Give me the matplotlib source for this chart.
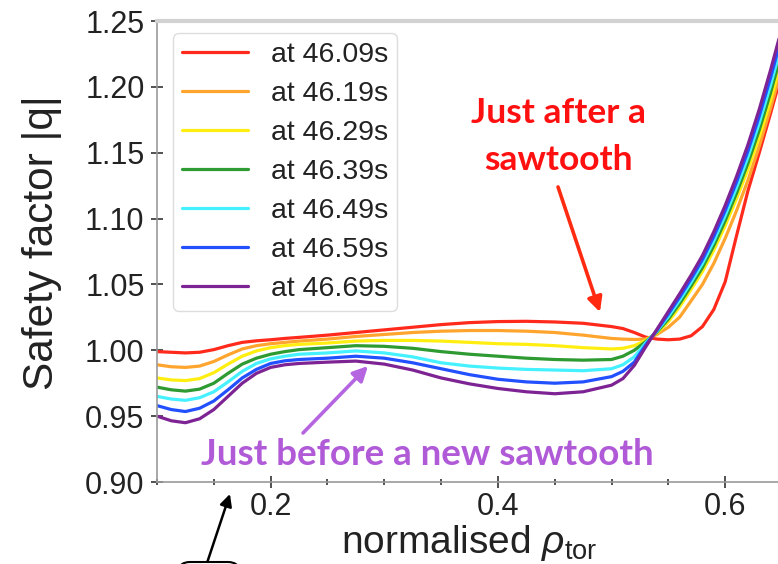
import matplotlib
matplotlib.use("Agg")
import matplotlib.pyplot as plt
from matplotlib.ticker import MultipleLocator, FormatStrFormatter
from matplotlib.patches import FancyBboxPatch
from matplotlib.transforms import IdentityTransform

plt.rcParams['font.family'] = 'Liberation Sans'
plt.rcParams['mathtext.fontset'] = 'custom'
plt.rcParams['mathtext.rm'] = 'Liberation Sans'
plt.rcParams['mathtext.it'] = 'Liberation Sans:italic'

# q profiles vs normalised toroidal radius
rho = [0.100, 0.1125, 0.125, 0.1375, 0.150, 0.1625, 0.175, 0.1875, 0.200, 0.2125, 0.225,
       0.250, 0.275, 0.300, 0.325, 0.350, 0.375, 0.400, 0.425, 0.450, 0.475, 0.500,
       0.510, 0.520, 0.530,
       0.540, 0.550, 0.560, 0.570, 0.580, 0.590, 0.600, 0.610, 0.620, 0.630, 0.640, 0.650]

q_4609 = [0.999, 0.9985, 0.998, 0.9985, 1.0005, 1.0035, 1.006, 1.0072, 1.008, 1.009, 1.0098,
          1.0115, 1.0135, 1.0155, 1.0175, 1.0195, 1.021, 1.0218, 1.022, 1.0215, 1.0205, 1.018,
          1.0165, 1.0135, 1.010,
          1.0085, 1.008, 1.0085, 1.011, 1.018, 1.031, 1.052, 1.087, 1.121, 1.150, 1.180, 1.211]
q_4619 = [0.989, 0.9875, 0.987, 0.988, 0.9915, 0.9965, 1.001, 1.0035, 1.005, 1.006, 1.007,
          1.0085, 1.0105, 1.012, 1.0135, 1.0145, 1.015, 1.015, 1.0145, 1.0135, 1.0115, 1.009,
          1.0085, 1.0082, 1.0085,
          1.012, 1.0175, 1.0252, 1.0375, 1.050, 1.066, 1.085, 1.106, 1.129, 1.155, 1.184, 1.215]
q_4629 = [0.979, 0.9775, 0.977, 0.9785, 0.983, 0.9895, 0.9955, 0.9995, 1.002, 1.0035, 1.0045,
          1.0055, 1.007, 1.0075, 1.0075, 1.007, 1.006, 1.005, 1.0045, 1.0035, 1.002, 1.001,
          1.0015, 1.0035, 1.0075,
          1.0132, 1.0217, 1.0331, 1.0462, 1.0598, 1.076, 1.0945, 1.1151, 1.1373, 1.1621, 1.190, 1.2212]
q_4639 = [0.972, 0.970, 0.969, 0.9705, 0.975, 0.9825, 0.9895, 0.994, 0.997, 0.999, 1.0005,
          1.002, 1.0035, 1.003, 1.0015, 0.999, 0.997, 0.9955, 0.994, 0.993, 0.9925, 0.993,
          0.9955, 1.000, 1.0065,
          1.0139, 1.0237, 1.0356, 1.0489, 1.0628, 1.0795, 1.0984, 1.1193, 1.142, 1.1673, 1.1957, 1.2272]
q_4649 = [0.965, 0.963, 0.962, 0.964, 0.9685, 0.976, 0.984, 0.990, 0.9935, 0.9955, 0.997,
          0.998, 0.9995, 0.998, 0.995, 0.9905, 0.988, 0.9865, 0.9855, 0.985, 0.9845, 0.986,
          0.989, 0.995, 1.0055,
          1.0146, 1.0256, 1.0381, 1.0516, 1.0659, 1.083, 1.1023, 1.1235, 1.1466, 1.1726, 1.2015, 1.2331]
q_4659 = [0.958, 0.955, 0.9535, 0.956, 0.9615, 0.970, 0.979, 0.9855, 0.990, 0.992, 0.993,
          0.994, 0.9955, 0.994, 0.9905, 0.986, 0.9815, 0.978, 0.976, 0.975, 0.976, 0.980,
          0.984, 0.991, 1.004,
          1.0153, 1.0276, 1.0405, 1.0543, 1.0689, 1.0865, 1.1061, 1.1278, 1.1513, 1.1778, 1.2072, 1.2391]
q_4669 = [0.950, 0.9465, 0.945, 0.948, 0.955, 0.965, 0.975, 0.9825, 0.987, 0.989, 0.990,
          0.991, 0.9918, 0.9895, 0.985, 0.979, 0.9745, 0.971, 0.9685, 0.967, 0.9685, 0.9735,
          0.9785, 0.9885, 1.0025,
          1.016, 1.0295, 1.043, 1.057, 1.072, 1.090, 1.110, 1.132, 1.156, 1.183, 1.213, 1.245]

profiles = [q_4609, q_4619, q_4629, q_4639, q_4649, q_4659, q_4669]
labels = ['at 46.09s', 'at 46.19s', 'at 46.29s', 'at 46.39s',
          'at 46.49s', 'at 46.59s', 'at 46.69s']
colors = ['#ff2a1c', '#ffa52e', '#ffee10', '#2e9a32', '#45f0ff', '#2250ff', '#7d2394']

fig = plt.figure(figsize=(7.78, 5.64), dpi=100)
ax = fig.add_axes([157/778, 82/564, 625/778, 461/564])

for q, lab, col in zip(profiles, labels, colors):
    ax.plot(rho, q, color=col, lw=2.3, label=lab,
            solid_capstyle='round', solid_joinstyle='round')

ax.set_xlim(0.1, 0.65)
ax.set_ylim(0.90, 1.25)
ax.xaxis.set_major_locator(MultipleLocator(0.2))
ax.xaxis.set_minor_locator(MultipleLocator(0.05))
ax.yaxis.set_major_locator(MultipleLocator(0.05))
ax.yaxis.set_major_formatter(FormatStrFormatter('%.2f'))
ax.xaxis.set_major_formatter(FormatStrFormatter('%.1f'))

ax.tick_params(which='major', direction='inout', length=8, width=1.2,
               color='#333333', labelsize=22, labelcolor='#222222')
ax.tick_params(which='minor', direction='inout', length=4, width=1.2, color='#333333')
ax.tick_params(axis='y', pad=5)
ax.tick_params(axis='x', pad=3)

for side in ['left', 'bottom']:
    ax.spines[side].set_color('#9a9a9a')
    ax.spines[side].set_linewidth(1.2)
ax.spines['top'].set_color('#d2d2d2')
ax.spines['top'].set_linewidth(3)
ax.spines['right'].set_color('#d2d2d2')

ax.set_ylabel('Safety factor |q|', fontsize=30.5, color='#222222')
ax.yaxis.set_label_coords(-0.152, 0.52)
ax.set_xlabel(r'normalised $\rho_{\rm tor}$', fontsize=28, color='#222222')
ax.xaxis.set_label_coords(0.5, -0.09)

leg = ax.legend(loc='upper left', bbox_to_anchor=(0.0256, 0.974), borderaxespad=0,
                fontsize=20.5, handlelength=2.35, handletextpad=0.8, labelspacing=0.46,
                borderpad=0.3, fancybox=True, framealpha=1, edgecolor='#dddddd')
for t in leg.get_texts():
    t.set_color('#222222')

# callouts
ax.text(0.4529, 1.1726, 'Just after a', color='#ff1010', fontsize=25.5,
        fontfamily='Lato', fontweight='bold', ha='center', va='baseline')
ax.text(0.4529, 1.1369, 'sawtooth', color='#ff1010', fontsize=25.5,
        fontfamily='Lato', fontweight='bold', ha='center', va='baseline')
ax.annotate('', xy=(0.4898, 1.029), xytext=(0.4529, 1.124),
            arrowprops=dict(arrowstyle='-|>', color='#ff2a10', lw=2.6,
                            mutation_scale=22, shrinkA=0, shrinkB=0))

ax.text(0.3376, 0.9129, 'Just before a new sawtooth', color='#b05ad8', fontsize=26.5,
        fontfamily='Lato', fontweight='bold', ha='center', va='baseline')
ax.annotate('', xy=(0.2857, 0.9881), xytext=(0.2285, 0.9372),
            arrowprops=dict(arrowstyle='-|>', color='#b565e0', lw=2.6,
                            mutation_scale=22, shrinkA=0, shrinkB=0))

ax.annotate('', xy=(0.1642, 0.8909), xytext=(0.144, 0.8385), annotation_clip=False,
            arrowprops=dict(arrowstyle='-|>', color='black', lw=1.8,
                            mutation_scale=18, shrinkA=0, shrinkB=0))
fig.add_artist(FancyBboxPatch((178, -40), 62, 42, boxstyle='round,pad=0,rounding_size=12',
                              transform=IdentityTransform(), facecolor='white',
                              edgecolor='black', lw=1.5, clip_on=False))

fig.savefig('out.png', dpi=100)
